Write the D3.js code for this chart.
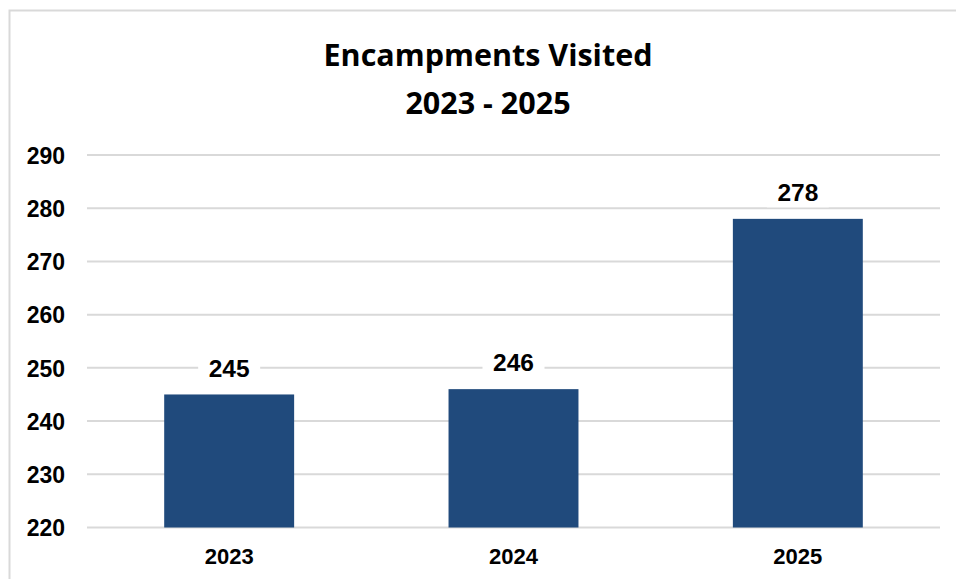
<!DOCTYPE html>
<html>
<head>
<meta charset="utf-8">
<script src="https://cdn.jsdelivr.net/npm/d3@7"></script>
<style>
  html, body { margin: 0; padding: 0; background: #fff; }
  svg { display: block; }
</style>
</head>
<body>
<svg id="chart" width="956" height="579"></svg>
<script>
// Encampments visited per year
const years = ["2023", "2024", "2025"];
const visits = [245, 246, 278];
const yTicks = [220, 230, 240, 250, 260, 270, 280, 290];
const titleLines = ["Encampments Visited", "2023 - 2025"];

const svg = d3.select("#chart");
const plot = { left: 87, right: 940, top: 155, bottom: 527.5 };
const labelFont = "Liberation Sans, Arial, sans-serif";

// chart frame
svg.append("rect")
  .attr("x", 9.5).attr("y", 10.5)
  .attr("width", 960).attr("height", 600)
  .attr("fill", "#fff")
  .attr("stroke", "#d9d9d9").attr("stroke-width", 2);

const x = d3.scaleBand()
  .domain(years)
  .range([plot.left, plot.right])
  .paddingInner(0.543)
  .paddingOuter(0.2715);

const y = d3.scaleLinear()
  .domain([220, 290])
  .range([plot.bottom, plot.top]);

// gridlines
svg.append("g")
  .selectAll("line")
  .data(yTicks)
  .join("line")
  .attr("x1", plot.left).attr("x2", plot.right)
  .attr("y1", d => y(d)).attr("y2", d => y(d))
  .attr("stroke", "#d9d9d9").attr("stroke-width", 2);

// y axis labels
const yAxis = d3.axisLeft(y).tickValues(yTicks).tickSize(0).tickPadding(0);
const yg = svg.append("g")
  .attr("transform", `translate(65,0)`)
  .call(yAxis);
yg.select(".domain").remove();
yg.selectAll("text")
  .attr("font-family", labelFont)
  .attr("font-weight", "bold")
  .attr("font-size", 23)
  .attr("fill", "#000")
  .attr("dy", "0.36em");

// x axis labels
const xAxis = d3.axisBottom(x).tickSize(0).tickPadding(0);
const xg = svg.append("g")
  .attr("transform", `translate(0,${plot.bottom + 28.5})`)
  .call(xAxis);
xg.select(".domain").remove();
xg.selectAll("text")
  .attr("font-family", labelFont)
  .attr("font-weight", "bold")
  .attr("font-size", 22)
  .attr("fill", "#000")
  .attr("dy", "0.36em");

// bars
const data = years.map((yr, i) => ({ year: yr, value: visits[i] }));
svg.append("g")
  .selectAll("rect")
  .data(data)
  .join("rect")
  .attr("x", d => x(d.year))
  .attr("y", d => y(d.value))
  .attr("width", x.bandwidth())
  .attr("height", d => y(220) - y(d.value))
  .attr("fill", "#204a7c");

// value labels on white backing
const labels = svg.append("g")
  .selectAll("g")
  .data(data)
  .join("g")
  .attr("transform", d => `translate(${x(d.year) + x.bandwidth() / 2},${y(d.value) - 26.5})`);
labels.append("rect")
  .attr("x", -31).attr("y", -15)
  .attr("width", 62).attr("height", 30)
  .attr("fill", "#fff");
labels.append("text")
  .attr("text-anchor", "middle")
  .attr("dy", "0.36em")
  .attr("font-family", labelFont)
  .attr("font-weight", "bold")
  .attr("font-size", 24.5)
  .attr("fill", "#000")
  .text(d => d.value);

// title
svg.append("g")
  .selectAll("text")
  .data(titleLines)
  .join("text")
  .attr("x", 488)
  .attr("y", (d, i) => 66 + i * 48)
  .attr("text-anchor", "middle")
  .attr("font-family", "Open Sans, Lato, sans-serif")
  .attr("font-weight", "bold")
  .attr("font-size", 30.5)
  .attr("fill", "#000")
  .text(d => d);
</script>
</body>
</html>
